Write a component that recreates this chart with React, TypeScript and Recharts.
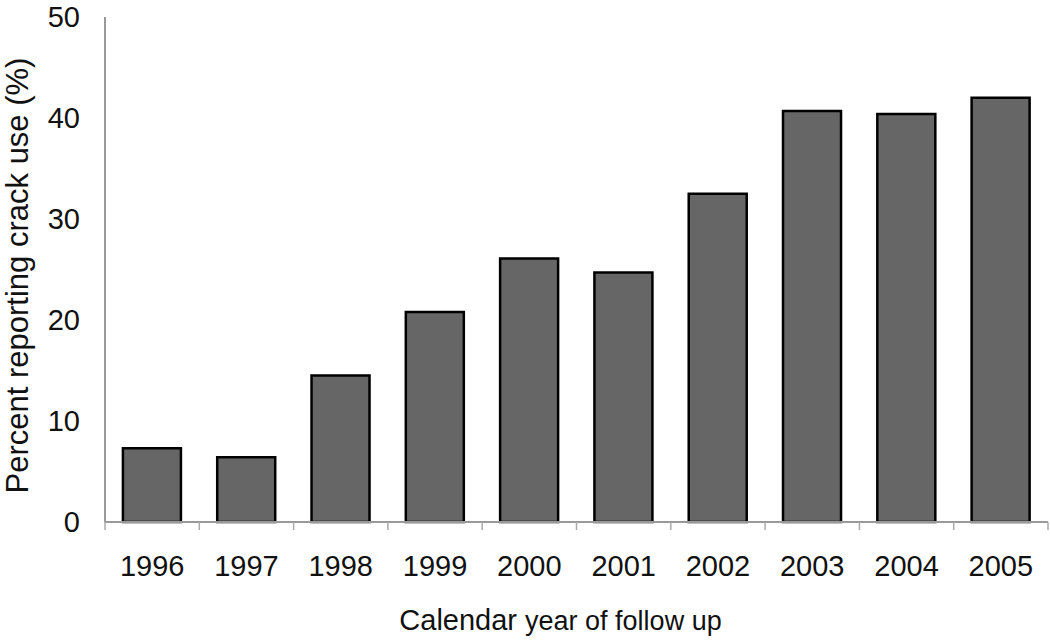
import React from 'react';
import { BarChart, Bar, XAxis, YAxis } from 'recharts';

const years = ['1996', '1997', '1998', '1999', '2000', '2001', '2002', '2003', '2004', '2005'];
const percentCrack = [7.3, 6.4, 14.5, 20.8, 26.1, 24.7, 32.5, 40.7, 40.4, 42.0];
const yTicks = [0, 10, 20, 30, 40, 50];

const data = years.map((year, i) => ({ year, value: percentCrack[i] }));

const FONT = '"Liberation Sans", Arial, Helvetica, sans-serif';

const YTitle = (props: any) => {
  const vb = props.viewBox || {};
  const cx = vb.x + 28;
  const cy = vb.y + vb.height / 2 + 6;
  return (
    <text
      x={cx}
      y={cy}
      transform={`rotate(-90, ${cx}, ${cy})`}
      textAnchor="middle"
      fontFamily={FONT}
      fontSize={31}
      fill="#111"
    >
      Percent reporting crack use (%)
    </text>
  );
};

const XTitle = (props: any) => {
  const vb = props.viewBox || {};
  const cx = vb.x + vb.width / 2 - 16;
  const by = vb.y + 108;
  return (
    <text x={cx} y={by} textAnchor="middle" fontFamily={FONT} fill="#111">
      <tspan fontSize={29}>Calendar </tspan>
      <tspan fontSize={27}>year of follow up</tspan>
    </text>
  );
};

const BAND_HALF = 943 / years.length / 2;

const CatTick = (props: any) => {
  const { x, y, payload, index, visibleTicksCount } = props;
  const half = payload && payload.offset ? payload.offset : BAND_HALF;
  const axisY = y;
  const isLast = index === (visibleTicksCount ?? years.length) - 1;
  return (
    <g>
      <line x1={x - half} x2={x - half} y1={axisY} y2={axisY + 8} stroke="#aaa" strokeWidth={1.5} />
      {isLast && (
        <line x1={x + half} x2={x + half} y1={axisY} y2={axisY + 8} stroke="#aaa" strokeWidth={1.5} />
      )}
      <text
        x={x}
        y={axisY + 33}
        dy="0.71em"
        textAnchor="middle"
        fontFamily={FONT}
        fontSize={29}
        fill="#111"
      >
        {payload.value}
      </text>
    </g>
  );
};

export default function App() {
  return (
    <div style={{ position: 'absolute', left: 0, top: 0, width: 1050, height: 642, background: '#fff' }}>
      <BarChart
        width={1050}
        height={642}
        data={data}
        margin={{ top: 17, right: 2, bottom: 90, left: 0 }}
        barCategoryGap="19%"
      >
        <XAxis
          dataKey="year"
          height={30}
          axisLine={{ stroke: '#999', strokeWidth: 2 }}
          tickLine={false}
          tickSize={0}
          tickMargin={0}
          tick={<CatTick />}
          interval={0}
          label={<XTitle />}
        />
        <YAxis
          width={105}
          domain={[0, 50]}
          ticks={yTicks}
          axisLine={{ stroke: '#999', strokeWidth: 2 }}
          tickLine={false}
          tickSize={0}
          tickMargin={25}
          tick={{ fontSize: 29, fill: '#111', fontFamily: FONT }}
          label={<YTitle />}
        />
        <Bar
          dataKey="value"
          fill="#666666"
          stroke="#000"
          strokeWidth={2.5}
          isAnimationActive={false}
        />
      </BarChart>
    </div>
  );
}
